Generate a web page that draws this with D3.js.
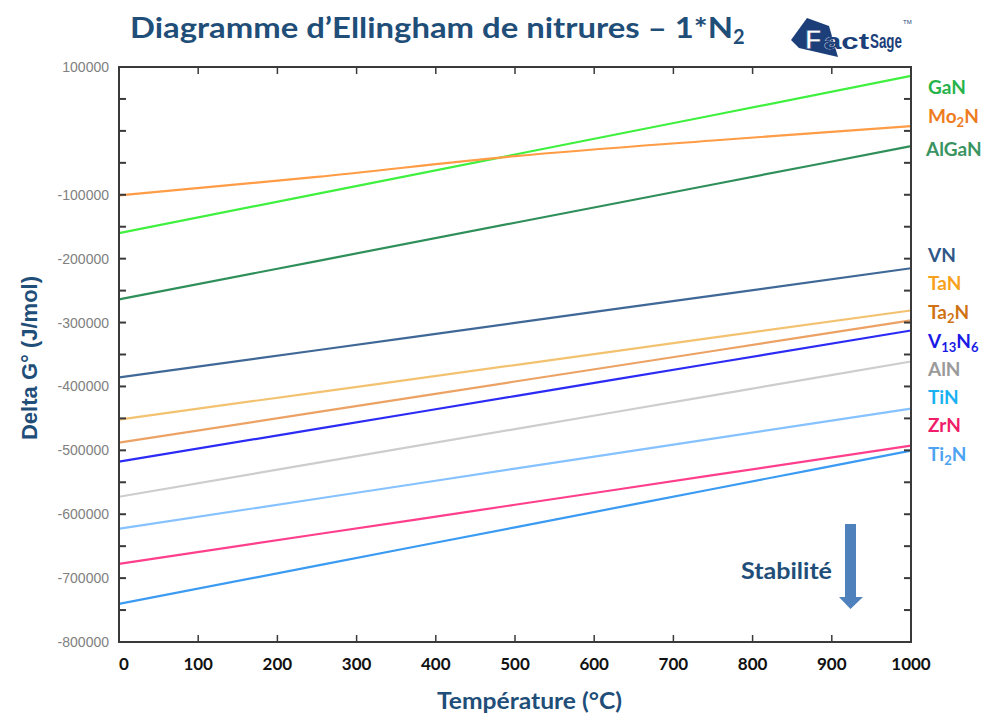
<!DOCTYPE html>
<html><head><meta charset="utf-8">
<script src="https://cdn.jsdelivr.net/npm/d3@7"></script>
<style>body{margin:0;background:#fff}svg{display:block}</style>
</head><body>
<svg id="c" width="988" height="717"></svg>
<script>
const temperatures = [0, 250, 500, 750, 1000];
const seriesNames = ["GaN","Mo2N","AlGaN","VN","TaN","Ta2N","V13N6","AlN","TiN","ZrN","Ti2N"];
const GaN   = [-160000, -98500, -37000, 24500, 86000];
const Mo2N  = [-101000, -72000, -39500, -15000, 7500];
const AlGaN = [-263700, -203750, -143800, -83850, -23900];
const VN    = [-386000, -343300, -300500, -257800, -215000];
const TaN   = [-451900, -409200, -366500, -323700, -281000];
const Ta2N  = [-488000, -440200, -392300, -344500, -296700];
const V13N6 = [-517800, -466400, -415100, -363700, -312400];
const AlN   = [-572600, -519700, -466800, -413900, -361000];
const TiN   = [-622800, -575800, -528700, -481700, -434600];
const ZrN   = [-677700, -631400, -585200, -538900, -492700];
const Ti2N  = [-740400, -680400, -620500, -560500, -500500];
const yTicks = [100000, 0, -100000, -200000, -300000, -400000, -500000, -600000, -700000, -800000];
const yTickLabels = ["100000", "", "-100000", "-200000", "-300000", "-400000", "-500000", "-600000", "-700000", "-800000"];
const xTicks = [0,100,200,300,400,500,600,700,800,900,1000];

const values = {GaN, Mo2N, AlGaN, VN, TaN, Ta2N, V13N6, AlN, TiN, ZrN, Ti2N};
const lineColors = {GaN:"#3ff03f", Mo2N:"#ff9c45", AlGaN:"#2f8f5a", VN:"#3f6897", TaN:"#f3c270", Ta2N:"#eca265", V13N6:"#2b2bf5", AlN:"#cdcdcd", TiN:"#85c2ff", ZrN:"#ff3f8c", Ti2N:"#3b9bf2"};
const labelColors = {GaN:"#27b24a", Mo2N:"#ee7c1e", AlGaN:"#3a9461", VN:"#2f5788", TaN:"#f7a21c", Ta2N:"#cf7214", V13N6:"#1a1ae6", AlN:"#9a9a9a", TiN:"#19b1f2", ZrN:"#f01d68", Ti2N:"#4ca3f2"};
const labelY = {GaN:88, Mo2N:117, AlGaN:150, VN:256, TaN:284, Ta2N:313, V13N6:342, AlN:370, TiN:398, ZrN:426, Ti2N:455};

const svg = d3.select("#c");
const L=119, R=911, T=67, B=642;
const x = d3.scaleLinear().domain([0,1000]).range([L,R]);
const y = d3.scaleLinear().domain([-800000,100000]).range([B,T]);

// lines
const line = d3.line().x((d,i)=>x(temperatures[i])).y(d=>y(d)).curve(d3.curveMonotoneX);
seriesNames.forEach(n=>{
  svg.append("path").datum(values[n]).attr("d", line).attr("fill","none")
    .attr("stroke", lineColors[n]).attr("stroke-width", 2.2);
});

// frame and ticks
const frameCol = "#3a3a3a";
const g = svg.append("g");
g.append("rect").attr("x",L).attr("y",T).attr("width",R-L).attr("height",B-T)
  .attr("fill","none").attr("stroke",frameCol).attr("stroke-width",2);
const minor = d3.range(-800000, 100001, 50000);
minor.forEach(v=>{
  g.append("line").attr("x1",L).attr("x2",L+7).attr("y1",y(v)).attr("y2",y(v)).attr("stroke",frameCol).attr("stroke-width",2);
  g.append("line").attr("x1",R).attr("x2",R-7).attr("y1",y(v)).attr("y2",y(v)).attr("stroke",frameCol).attr("stroke-width",2);
});
xTicks.forEach(v=>{
  g.append("line").attr("x1",x(v)).attr("x2",x(v)).attr("y1",B).attr("y2",B-7).attr("stroke",frameCol).attr("stroke-width",1.5);
  g.append("line").attr("x1",x(v)).attr("x2",x(v)).attr("y1",T).attr("y2",T+7).attr("stroke",frameCol).attr("stroke-width",1.5);
});

// y tick labels
yTicks.forEach((v,i)=>{
  svg.append("text").attr("x",109).attr("y",y(v)+5).attr("text-anchor","end")
    .attr("font-family","Liberation Sans, Arial, sans-serif").attr("font-size",14)
    .attr("fill","#808080").text(yTickLabels[i]);
});
// x tick labels
xTicks.forEach(v=>{
  svg.append("text").attr("x",x(v)+ (v===0?5:0)).attr("y",670).attr("text-anchor","middle")
    .attr("font-family","Lato, sans-serif").attr("font-weight","bold").attr("font-size",17)
    .attr("fill","#111").text(v);
});

// series labels
function sub(t, base, s, rest){ t.append("tspan").text(base); t.append("tspan").attr("font-size",13).attr("dy",4).text(s); t.append("tspan").attr("dy",-4).text(rest); }
seriesNames.forEach(n=>{
  const t = svg.append("text").attr("x", n==="AlGaN"?926:928).attr("y", labelY[n]+6)
    .attr("font-family","Lato, sans-serif").attr("font-weight","bold").attr("font-size",19)
    .attr("fill", labelColors[n]);
  if (n==="Mo2N") sub(t,"Mo","2","N");
  else if (n==="Ta2N") sub(t,"Ta","2","N");
  else if (n==="Ti2N") sub(t,"Ti","2","N");
  else if (n==="V13N6"){ sub(t,"V","13","N"); t.append("tspan").attr("font-size",13).attr("dy",4).text("6"); }
  else t.text(n);
});

// titles
const navy = "#1f4e79";
const title = svg.append("text").attr("x",130).attr("y",38)
  .attr("font-family","Lato, sans-serif").attr("font-weight","bold").attr("font-size",29).attr("fill",navy);
title.append("tspan").attr("textLength",603).attr("lengthAdjust","spacingAndGlyphs").text("Diagramme d\u2019Ellingham de nitrures \u2013 1*N");
title.append("tspan").attr("font-size",20).attr("dy",6).text("2");

svg.append("text").attr("transform","translate(37,358) rotate(-90)").attr("text-anchor","middle")
  .attr("font-family","Liberation Sans, Arial, sans-serif").attr("font-weight","bold").attr("font-size",22)
  .attr("fill",navy).text("Delta G\u00b0 (J/mol)");
svg.append("text").attr("x",437).attr("y",709)
  .attr("font-family","Lato, sans-serif").attr("font-weight","bold").attr("font-size",23)
  .attr("textLength",185).attr("lengthAdjust","spacingAndGlyphs")
  .attr("fill",navy).text("Temp\u00e9rature (\u00b0C)");

// Stabilité arrow
svg.append("text").attr("x",741).attr("y",579).attr("font-family","Lato, sans-serif").attr("font-weight","bold")
  .attr("font-size",22).attr("textLength",91).attr("lengthAdjust","spacingAndGlyphs").attr("fill",navy).text("Stabilit\u00e9");
svg.append("path").attr("d","M845,524 H856 V597 H863 L850.5,609 L839,597 H845 Z").attr("fill","#4f81bd");

// FactSage logo
const logoNavy = "#1c3f7a";
const lg = svg.append("g");
lg.append("path").attr("d","M791,40 L807,18 L829,26 L838,57 L799,48 Z").attr("fill",logoNavy);
lg.append("text").attr("x",805).attr("y",49).attr("font-family","Liberation Sans, Arial, sans-serif").attr("font-weight","bold")
  .attr("font-size",27).attr("fill","#fff").attr("stroke",logoNavy).attr("stroke-width",0.8).text("F");
lg.append("text").attr("x",824).attr("y",49).attr("font-family","Liberation Sans, Arial, sans-serif").attr("font-weight","bold")
  .attr("font-size",22).attr("fill",logoNavy).attr("stroke","#fff").attr("stroke-width",0.6).attr("paint-order","stroke")
  .attr("textLength",45).attr("lengthAdjust","spacingAndGlyphs").text("act");
lg.append("text").attr("x",870).attr("y",48).attr("font-family","Liberation Sans Narrow, Arial, sans-serif").attr("font-weight","bold")
  .attr("font-size",20).attr("textLength",32).attr("lengthAdjust","spacingAndGlyphs").attr("fill",logoNavy).text("Sage");
lg.append("text").attr("x",903).attr("y",24).attr("font-family","Arial, sans-serif").attr("font-size",6).attr("fill",logoNavy).text("TM");
</script>
</body></html>
